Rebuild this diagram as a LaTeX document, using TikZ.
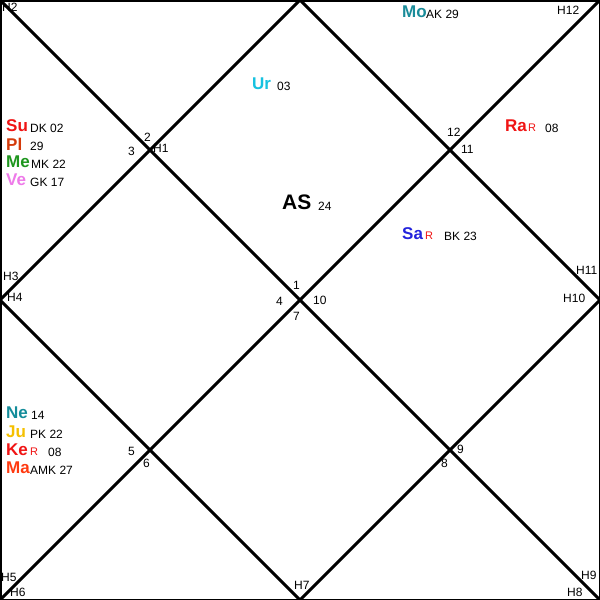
\documentclass[tikz,border=0pt]{standalone}
\usepackage{fontspec}
\setmainfont{Liberation Sans}
\definecolor{cSu}{HTML}{F01414}
\definecolor{cPl}{HTML}{D43A0A}
\definecolor{cMe}{HTML}{1E961E}
\definecolor{cVe}{HTML}{EE7AE9}
\definecolor{cMo}{HTML}{1A8C9A}
\definecolor{cUr}{HTML}{16C2E0}
\definecolor{cSa}{HTML}{2323DC}
\definecolor{cRa}{HTML}{F01414}
\definecolor{cNe}{HTML}{138C9A}
\definecolor{cJu}{HTML}{F5C000}
\definecolor{cKe}{HTML}{F01414}
\definecolor{cMa}{HTML}{FF3A10}
\tikzset{
  pl/.style={font=\fontsize{17}{17}\selectfont\bfseries, inner sep=0pt, anchor=west},
  sm/.style={font=\fontsize{12}{12}\selectfont, inner sep=0pt, anchor=west},
  rr/.style={font=\fontsize{11}{12}\selectfont, inner sep=0pt, anchor=west, text=cSu},
  hn/.style={font=\fontsize{12}{12}\selectfont, inner sep=0pt, anchor=west},
  chart/.style={line width=3pt, line cap=round},
}
\begin{document}
\begin{tikzpicture}[x=1pt,y=-1pt]
\useasboundingbox (0,0) rectangle (600,600);
\fill[white] (0,0) rectangle (600,600);
\coordinate (tl) at (0,0);
\coordinate (tr) at (600,0);
\coordinate (br) at (600,600);
\coordinate (bl) at (0,600);
\coordinate (tm) at (300,0);
\coordinate (rm) at (600,300);
\coordinate (bm) at (300,600);
\coordinate (lm) at (0,300);
\draw[chart] (tl) -- (br);
\draw[chart] (tr) -- (bl);
\draw[chart] (tm) -- (rm) -- (bm) -- (lm) -- cycle;
\draw[line width=1.5pt] (0.75,0.75) rectangle (599.25,599.25);
% house labels
\node[hn] (h2) at (2,7) {H2};
\node[hn] (h12) at (557,10) {H12};
\node[hn] (h3) at (3,276) {H3};
\node[hn] (h4) at (7,297) {H4};
\node[hn] (h11) at (576,270) {H11};
\node[hn] (h10) at (563,298) {H10};
\node[hn] (h5) at (1,577) {H5};
\node[hn] (h6) at (10,592) {H6};
\node[hn] (h7) at (294,585) {H7};
\node[hn] (h8) at (567,592) {H8};
\node[hn] (h9) at (581,575) {H9};
\node[hn] (h1) at (153,148) {H1};
% sign numbers
\node[hn] (n2) at (144,137) {2};
\node[hn] (n3) at (128,151) {3};
\node[hn] (n12) at (447,132) {12};
\node[hn] (n11) at (461,149) {11};
\node[hn] (n1) at (293,285) {1};
\node[hn] (n4) at (276,301) {4};
\node[hn] (n10) at (313,300) {10};
\node[hn] (n7) at (293,316) {7};
\node[hn] (n5) at (128,451) {5};
\node[hn] (n6) at (143,463) {6};
\node[hn] (n9) at (457,449) {9};
\node[hn] (n8) at (441,463) {8};
% planets
\node[pl,text=cMo] (mo) at (402,12) {Mo};
\node[sm] (mod) at (426,14) {AK 29};
\node[pl,text=cUr] (ur) at (252,84) {Ur};
\node[sm] (urd) at (277,86) {03};
\node[pl,text=cSu] (su) at (6,126) {Su};
\node[sm] (sud) at (30,128) {DK 02};
\node[pl,text=cPl] (pl) at (6,144) {Pl};
\node[sm] (pld) at (30,146) {29};
\node[pl,text=cMe] (me) at (6,162) {Me};
\node[sm] (med) at (31,164) {MK 22};
\node[pl,text=cVe] (ve) at (6,180) {Ve};
\node[sm] (ved) at (30,182) {GK 17};
\node[font=\fontsize{21}{21}\selectfont\bfseries, inner sep=0pt, anchor=west] (as) at (282,202) {AS};
\node[sm] (asd) at (318,206) {24};
\node[pl,text=cSa] (sa) at (402,234) {Sa};
\node[rr] (sar) at (425,236) {R};
\node[sm] (sad) at (444,236) {BK 23};
\node[pl,text=cRa] (ra) at (505,126) {Ra};
\node[rr] (rar) at (528,128) {R};
\node[sm] (rad) at (545,128) {08};
\node[pl,text=cNe] (ne) at (6,413) {Ne};
\node[sm] (ned) at (31,415) {14};
\node[pl,text=cJu] (ju) at (6,432) {Ju};
\node[sm] (jud) at (30,434) {PK 22};
\node[pl,text=cKe] (ke) at (6,450) {Ke};
\node[rr] (ker) at (30,452) {R};
\node[sm] (ked) at (48,452) {08};
\node[pl,text=cMa] (ma) at (6,468) {Ma};
\node[sm] (mad) at (30,470) {AMK 27};
\end{tikzpicture}
\end{document}
